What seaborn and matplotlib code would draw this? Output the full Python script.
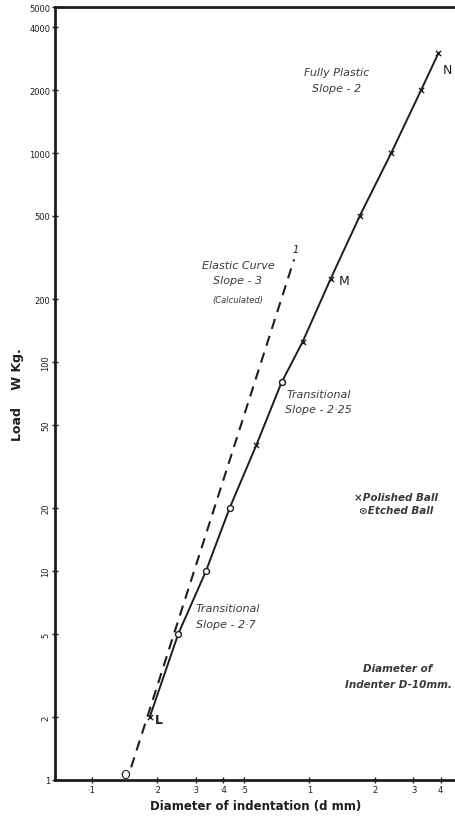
import matplotlib
matplotlib.use("Agg")
import matplotlib.pyplot as plt
import seaborn as sns
import pandas as pd

sns.set_style("ticks")
plt.rcParams["font.family"] = ["DejaVu Sans"]

# Measured hardness curve: indentation diameter (mm) vs load (kg)
diam = [0.185, 0.25, 0.335, 0.43, 0.57, 0.745, 0.93, 1.25, 1.7, 2.37, 3.25, 3.9]
load = [2, 5, 10, 20, 40, 80, 125, 250, 500, 1000, 2000, 3000]

# Polished-ball and etched-ball readings
polished_d = [0.185, 0.57, 0.745, 0.93, 1.25, 1.7, 2.37, 3.25, 3.9]
polished_w = [2, 40, 80, 125, 250, 500, 1000, 2000, 3000]
etched_d = [0.25, 0.335, 0.43, 0.745]
etched_w = [5, 10, 20, 80]

# Calculated elastic curve
elastic_d = [0.152, 0.85]
elastic_w = [1.15, 310]

x_ticks = [0.1, 0.2, 0.3, 0.4, 0.5, 1, 2, 3, 4]
x_labels = ["·1", "·2", "·3", "·4", "·5", "1", "2", "3", "4"]
y_ticks = [1, 2, 5, 10, 20, 50, 100, 200, 500, 1000, 2000, 4000, 5000]
y_labels = ["1", "2", "5", "10", "20", "50", "100", "200", "500", "1000", "2000", "4000", "5000"]

main = pd.DataFrame({"d": diam, "W": load})
elastic = pd.DataFrame({"d": elastic_d, "W": elastic_w})
pol = pd.DataFrame({"d": polished_d, "W": polished_w})
etc = pd.DataFrame({"d": etched_d, "W": etched_w})

ink = "#1e1e1e"
grey = "#3a3a3a"
fig = plt.figure(figsize=(4.56, 8.2), dpi=100)
ax = fig.add_axes([55 / 456, 39 / 820, 401 / 456, 773 / 820])
ax.set_xscale("log")
ax.set_yscale("log")

sns.lineplot(data=elastic, x="d", y="W", ax=ax, color=ink, lw=1.5,
             linestyle=(0, (5, 3.5)), estimator=None, sort=False)
sns.lineplot(data=main, x="d", y="W", ax=ax, color=ink, lw=1.4,
             estimator=None, sort=False)
sns.scatterplot(data=pol, x="d", y="W", ax=ax, marker="x", s=14,
                color=ink, linewidth=1.0, zorder=5)
sns.scatterplot(data=etc, x="d", y="W", ax=ax, marker="o", s=18,
                facecolor="white", edgecolor=ink, linewidth=1.0, zorder=6)

ax.set_xlim(0.068, 4.7)
ax.set_ylim(1, 5000)
ax.set_xticks(x_ticks)
ax.set_xticklabels(x_labels)
ax.set_yticks(y_ticks)
ax.set_yticklabels(y_labels)
ax.minorticks_off()
ax.tick_params(axis="both", direction="inout", length=5, width=1.0,
               labelsize=6, colors=ink, pad=1)
for lbl, v in zip(ax.get_yticklabels(), y_ticks):
    if 2 <= v <= 100:
        lbl.set_rotation(90)
        lbl.set_va("center")

for side in ["left", "bottom", "top"]:
    ax.spines[side].set_linewidth(2.0)
    ax.spines[side].set_color(ink)
ax.spines["right"].set_visible(False)

ax.set_xlabel("Diameter of indentation (d mm)", fontsize=8.5, fontweight="bold",
              color=ink, labelpad=4)
ax.set_ylabel("Load    W Kg.", fontsize=9, fontweight="bold", color=ink, labelpad=4)

note = dict(fontsize=8, style="italic", color=grey, ha="center", va="center")
ax.text(1.33, 2234, "Fully Plastic\nSlope - 2", linespacing=1.7, **note)
ax.text(0.47, 269, "Elastic Curve\nSlope - 3", linespacing=1.6, **note)
ax.text(0.47, 199, "(Calculated)", fontsize=6, style="italic", color=grey,
        ha="center", va="center")
ax.text(1.10, 64.7, "Transitional\nSlope - 2·25", linespacing=1.7, **note)
ax.text(2.5, 21, "×Polished Ball\n⊙Etched Ball", linespacing=1.4,
        fontsize=7.5, style="italic", color=grey, ha="center", va="center",
        fontweight="bold")
ax.text(0.30, 6.08, "Transitional\nSlope - 2·7", linespacing=1.7, ha="left",
        va="center", fontsize=8, style="italic", color=grey)
ax.text(2.55, 3.14, "Diameter of\nIndenter D-10mm.", linespacing=1.7, ha="center",
        va="center", fontsize=7.5, style="italic", color=grey, fontweight="bold")

ax.text(4.1, 2500, "N", fontsize=9, color=ink, ha="left", va="center")
ax.text(1.36, 245, "M", fontsize=9, color=ink, ha="left", va="center")
ax.text(0.195, 1.95, "L", fontsize=9, color=ink, ha="left", va="center", fontweight="bold")
ax.text(0.142, 1.06, "O", fontsize=9, color=ink, ha="center", va="center")
ax.text(0.86, 330, "1", fontsize=7, style="italic", color=ink, ha="center", va="bottom")

fig.savefig("out.png", dpi=100)
